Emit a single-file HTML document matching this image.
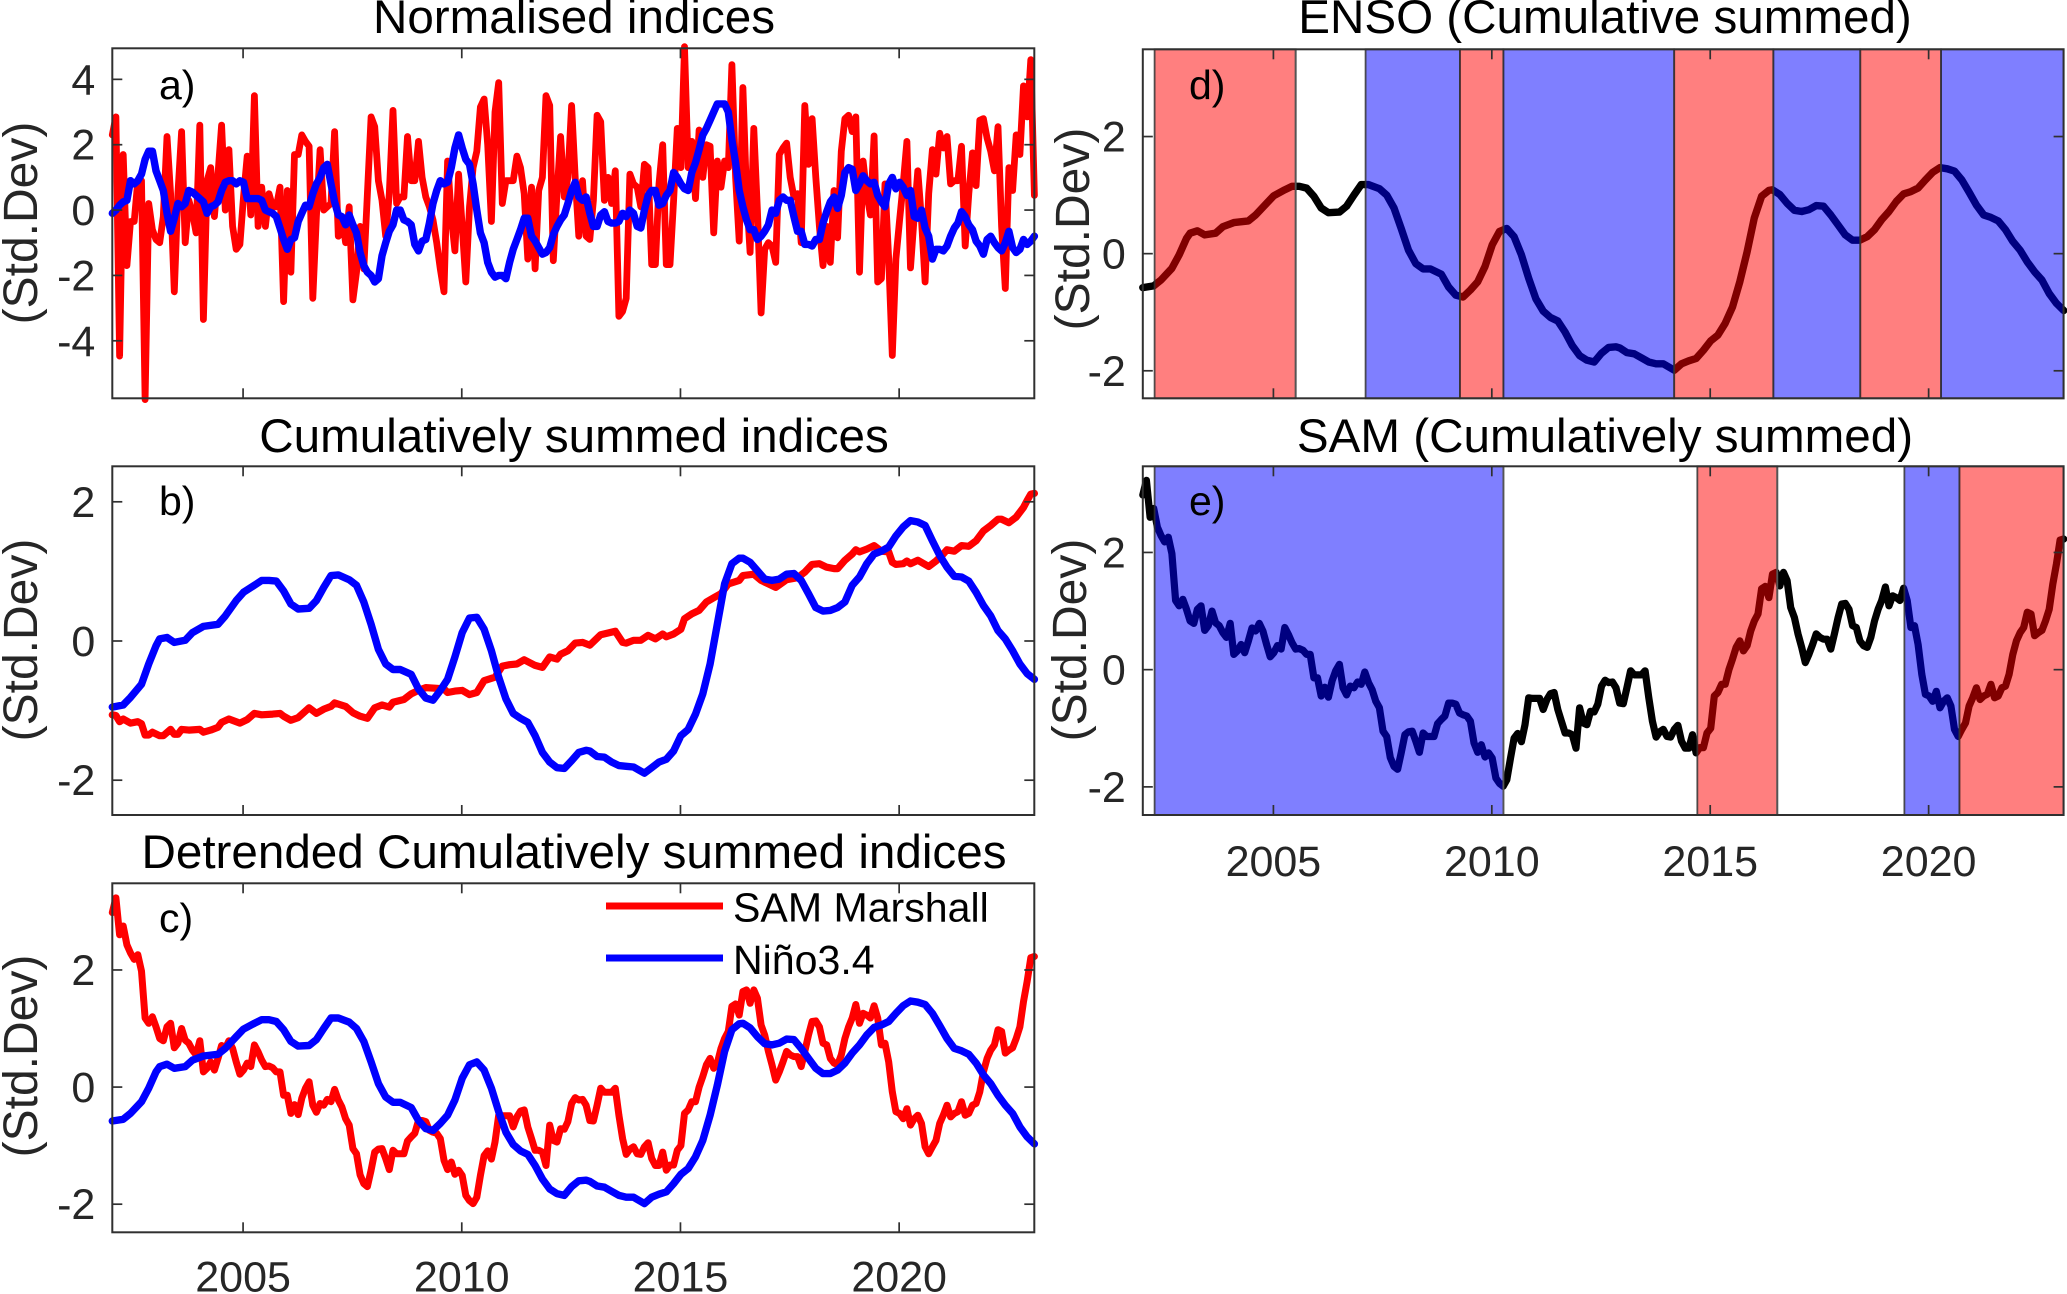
<!DOCTYPE html>
<html lang="en">
<head>
<meta charset="utf-8">
<title>Normalised and cumulatively summed SAM and Niño3.4 indices</title>
<style>
html,body{margin:0;padding:0;background:#fff;width:2067px;height:1294px;overflow:hidden}
svg{display:block}
text{font-family:"Liberation Sans",Arial,sans-serif}
.title{font-size:47.6px;fill:#000;text-anchor:middle}
.ylab{font-size:48px;fill:#262626;text-anchor:middle}
.let{font-size:41px;fill:#000}
.tick{font-size:43px;fill:#262626}
.leg{font-size:41.1px;fill:#000}
</style>
</head>
<body>
<svg id="fig" xmlns="http://www.w3.org/2000/svg" width="2067" height="1294" viewBox="0 0 2067 1294">
  <text class="title" x="574" y="33">Normalised indices</text>
  <text class="title" x="574" y="452">Cumulatively summed indices</text>
  <text class="title" x="574" y="868">Detrended Cumulatively summed indices</text>
  <text class="title" x="1605" y="33">ENSO (Cumulative summed)</text>
  <text class="title" x="1605" y="452">SAM (Cumulatively summed)</text>

  <text class="ylab" transform="translate(37,223) rotate(-90)">(Std.Dev)</text>
  <text class="ylab" transform="translate(37,640) rotate(-90)">(Std.Dev)</text>
  <text class="ylab" transform="translate(37,1056) rotate(-90)">(Std.Dev)</text>
  <text class="ylab" transform="translate(1089,229) rotate(-90)">(Std.Dev)</text>
  <text class="ylab" transform="translate(1086,640) rotate(-90)">(Std.Dev)</text>

  <g id="plots"></g>

  <text class="let" x="159" y="99">a)</text>
  <text class="let" x="159" y="515">b)</text>
  <text class="let" x="159" y="932">c)</text>
  <text class="let" x="1189" y="99">d)</text>
  <text class="let" x="1189" y="515">e)</text>

  <g>
    <line x1="606" y1="906" x2="723" y2="906" stroke="#ff0000" stroke-width="7"/>
    <text class="leg" x="733" y="921.5">SAM Marshall</text>
    <line x1="606" y1="958" x2="723" y2="958" stroke="#0000ff" stroke-width="7"/>
    <text class="leg" x="733" y="974">Niño3.4</text>
  </g>
</svg>
<script>
// ---- Data (months counted from January 2002) ----
const samNorm = [
2.3,2.85,-4.47,1.7,-1.7,-.35,-.35,.9,.9,-5.8,
.2,-.6,-.9,-1,-.2,2.25,.5,-2.5,.5,2.4,
-1,.3,-.1,-.7,2.6,-3.35,.9,1.3,-.2,1.1,
2.6,0,1.85,-.5,-1.2,-1.05,.4,1.65,-.15,3.5,
-.5,.7,-.5,.5,.1,.1,.7,-2.8,.6,-1.9,
1.7,1.7,2.3,2.1,1.95,-2.7,-.2,1.85,0,.1,
.2,2.4,-.8,-.2,-1,.1,-2.75,-1.9,-.5,-1.8,
.5,2.85,2.55,.9,.3,-.8,.5,3.05,.2,.4,
.4,2.25,.9,.9,2.1,1,.4,.1,-.3,-1,
-1.8,-2.5,1.5,-.2,-1.25,1.1,-.5,-2.2,.1,1.3,
1.8,3.15,3.4,2,-.35,3,3.9,.2,.9,.9,
.9,1.65,1.3,.5,-1.5,.7,-1.8,.6,1,3.5,
3.2,-1.55,.5,2.25,.4,1,3.2,1,-.8,.9,
-.8,-.9,.3,2.9,2.7,.3,1,.2,1.2,-3.25,
-3.1,-2.7,1.1,.8,.7,.1,1.4,1.3,-1.67,-1.67,
.8,2,-1.67,-1.67,.3,2.5,1.3,5,1.3,2.1,
.35,2.45,1,2,1.95,-.7,1.5,.7,1.5,1.3,
4.45,1,-.95,3.75,.5,-1.3,2.5,0,-3.15,-1.2,
-1,-1.1,-1.6,1.7,1.9,2.05,1,.4,.5,-1,
3.2,1.4,2.8,1,-.5,-1.7,-.5,-1.6,.6,-.85,
1.8,2.8,2.9,2.4,2.85,-1.9,1.5,.5,-.15,2.27,
-2.2,-2.1,.8,-1.5,-4.45,-1.5,-.3,.8,2.1,-1.77,
-.2,1.2,-.3,-2.2,.5,1.85,1.1,2.35,1.9,2.25,
.8,.9,.9,1.95,-1.1,.5,1.75,.75,2.75,2.8,
2.2,1.8,1.2,2.55,-.5,-2.4,1.3,.6,2.3,1.7,
3.8,2.85,4.6,.45];

const ninoNorm = [
-.1,0,.15,.25,.3,.9,.8,.9,1.1,1.55,
1.8,1.8,1.2,.9,.6,-.1,-.65,-.25,.2,.1,
.2,.6,.55,.45,.35,.25,-.1,.1,.15,.25,
.6,.85,.9,.9,.8,.9,.85,.35,.35,.35,
.35,.3,0,-.05,-.1,-.2,-.55,-.9,-1.2,-.9,
-.85,-.35,-.1,.15,.1,.5,.8,1,1.3,1.4,
.8,.25,-.15,-.2,-.45,-.15,-.45,-.7,-1.3,-1.7,
-1.9,-2,-2.2,-2.1,-1.4,-1,-.65,-.45,0,0,
-.3,-.35,-.45,-1.05,-1.25,-.95,-.9,-.4,.2,.6,
.9,.8,.85,1.3,1.9,2.3,1.9,1.55,1.4,.8,
0,-.7,-1,-1.6,-1.9,-2.05,-2,-2,-2.1,-1.6,
-1.2,-.9,-.6,-.25,-.25,-.8,-.95,-1.15,-1.35,-1.3,
-1.15,-.75,-.5,-.3,-.15,.2,.6,.85,.4,.3,
.4,-.1,-.5,-.5,-.15,-.05,-.35,-.4,-.4,-.35,
-.1,-.2,0,-.1,-.5,-.55,0,.45,.6,.6,
.15,.2,.45,.6,1.15,1,.8,.65,.6,1.15,
1.45,1.85,2.3,2.5,2.75,3,3.25,3.25,3.25,3,
2.15,1.45,.6,.1,-.3,-.6,-.6,-.9,-.8,-.65,
-.45,0,-.1,.3,.4,.3,.3,-.2,-.65,-.65,
-1.05,-1.05,-1.1,-.9,-.9,-.4,-.05,.25,.4,.05,
.45,1.15,1.3,1.25,.6,.8,1.05,.9,.8,.85,
.45,.25,.1,.8,1,.65,.85,.7,.45,.6,
-.2,-.25,0,-.55,-.8,-1.5,-1.2,-1.2,-1.25,-1.1,
-.8,-.55,-.4,-.05,-.2,-.45,-.6,-.95,-1.1,-1.35,
-.9,-.8,-1,-1.15,-1.25,-1,-.65,-1.15,-1.3,-1.2,
-.9,-1.05,-.95,-.8];

const samDetrended = [
2.98,3.23,2.6,2.75,2.43,2.29,2.18,2.26,1.98,1.18,
1.09,1.2,1.03,.83,.79,1.03,1.09,.67,.75,1,
.8,.75,.63,.55,.79,.26,.32,.43,.29,.49,
.71,.66,.79,.66,.43,.22,.29,.41,.35,.72,
.6,.46,.35,.36,.33,.26,.26,-.14,-.14,-.45,
-.3,-.47,-.19,-.02,.09,-.31,-.43,-.28,-.31,-.21,
-.25,-.04,-.22,-.34,-.54,-.65,-1.05,-1.14,-1.5,-1.65,
-1.7,-1.42,-1.11,-1.06,-1.05,-1.22,-1.41,-1.08,-1.14,-1.14,
-1.14,-.92,-.85,-.79,-.57,-.57,-.59,-.74,-.77,-.79,
-.88,-1.25,-1.41,-1.28,-1.49,-1.42,-1.51,-1.85,-1.94,-1.99,
-1.88,-1.51,-1.17,-1.09,-1.23,-.94,-.48,-.49,-.49,-.49,
-.68,-.51,-.41,-.39,-.68,-.88,-1.08,-1.08,-1.11,-1.34,
-.65,-.91,-.94,-.71,-.72,-.59,-.28,-.18,-.22,-.21,
-.31,-.57,-.58,-.31,-.02,-.09,-.09,-.09,-.02,-.48,
-.88,-1.15,-1.06,-1.02,-1.14,-1.15,-1.02,-.95,-1.22,-1.34,
-1.34,-1.11,-1.42,-1.33,-1.33,-1.08,-1,-.45,-.39,-.25,
-.25,0,.18,.38,.49,.32,.41,.66,.83,.95,
1.38,1.42,1.23,1.63,1.66,1.43,1.66,1.52,1.06,.89,
.61,.38,.12,.26,.43,.61,.55,.52,.52,.35,
.61,.89,1.12,1.13,1.03,.75,.72,.49,.41,.38,
.55,.83,1.03,1.18,1.41,1.09,1.26,1.23,1.18,1.39,
1.18,.72,.75,.43,-.08,-.42,-.45,-.54,-.37,-.65,
-.54,-.48,-.62,-1.02,-1.14,-1.02,-.91,-.62,-.48,-.31,
-.51,-.45,-.42,-.25,-.48,-.45,-.31,-.28,-.08,.26,
.49,.63,.72,.98,.95,.58,.63,.67,.83,1.03,
1.46,1.81,2.21,2.23];

const ninoMonths = [0,3,5,8,10,12,13,15,17,20,22,25,29,31,34,36,39,41,43,45,47,49,51,54,56,58,60,62,65,67,69,71,73,75,77,79,82,84,86,88,90,92,94,96,98,100,102,104,106,108,110,112,114,116,118,120,122,124,126,128,130,131,133,135,137,139,141,143,146,148,150,152,154,156,158,160,162,164,166,168,170,172,173,175,177,179,181,183,185,187,189,191,193,195,197,199,201,203,205,207,209,211,213,215,217,219,221,223,225,227,229,231,233,235,237,239,241,243,245,247,249,251,253];

const ninoDetrended = [-.58,-.55,-.45,-.25,-.02,.26,.35,.39,.32,.35,.46,.53,.56,.66,.86,.99,1.09,1.15,1.15,1.12,.98,.78,.7,.71,.81,1,1.18,1.18,1.11,1,.78,.43,.06,-.17,-.26,-.26,-.35,-.57,-.71,-.74,-.62,-.48,-.22,.15,.38,.43,.29,-.02,-.42,-.77,-.98,-1.09,-1.15,-1.34,-1.57,-1.74,-1.82,-1.85,-1.7,-1.6,-1.59,-1.61,-1.69,-1.71,-1.78,-1.85,-1.88,-1.88,-1.99,-1.88,-1.83,-1.79,-1.65,-1.49,-1.39,-1.19,-.91,-.48,.03,.61,.98,1.08,1.09,1.01,.86,.74,.72,.75,.82,.81,.66,.49,.32,.23,.23,.29,.41,.58,.72,.89,1.02,1.06,1.12,1.26,1.39,1.47,1.45,1.41,1.26,1.05,.83,.66,.62,.56,.41,.21,.06,-.14,-.31,-.45,-.68,-.85,-.97];

const ninoCum = [-.95,-.92,-.81,-.62,-.33,-.07,.03,.05,-.02,.01,.12,.21,.24,.36,.58,.7,.8,.87,.87,.86,.72,.53,.46,.47,.58,.77,.94,.95,.88,.8,.56,.24,-.12,-.33,-.41,-.41,-.48,-.69,-.82,-.85,-.71,-.55,-.23,.12,.33,.34,.17,-.14,-.52,-.83,-1.04,-1.11,-1.17,-1.36,-1.6,-1.74,-1.82,-1.83,-1.72,-1.6,-1.57,-1.58,-1.66,-1.67,-1.74,-1.79,-1.8,-1.81,-1.9,-1.82,-1.74,-1.7,-1.58,-1.36,-1.27,-1.05,-.76,-.33,.24,.82,1.11,1.19,1.19,1.13,1.01,.89,.87,.89,.96,.97,.87,.68,.48,.43,.44,.48,.56,.8,.92,1.11,1.25,1.29,1.35,1.51,1.64,1.73,1.71,1.66,1.44,1.23,1.06,.93,.92,.86,.7,.51,.36,.15,.03,-.14,-.33,-.47,-.55];

const samCumMonths = [0,1,2,3,5,7,8,9,10,11,13,14,16,17,18,19,21,24,25,27,29,30,32,35,37,39,41,44,46,47,49,51,54,56,58,60,61,64,66,68,70,72,74,76,77,80,82,84,86,89,91,92,94,96,98,100,102,105,107,109,111,113,116,118,120,122,123,125,127,129,131,134,138,140,141,143,145,147,149,151,152,154,156,157,159,161,163,165,167,169,172,173,176,178,180,182,185,188,190,192,194,196,198,199,201,203,204,205,207,209,211,213,214,215,217,218,219,221,224,226,228,229,231,233,235,237,239,241,243,244,246,248,250,251,252,253];

const samCum = [-1.06,-1.07,-1.16,-1.12,-1.18,-1.16,-1.19,-1.35,-1.35,-1.31,-1.36,-1.36,-1.27,-1.34,-1.34,-1.27,-1.28,-1.27,-1.31,-1.28,-1.24,-1.17,-1.12,-1.18,-1.13,-1.04,-1.06,-1.05,-1.04,-1.08,-1.14,-1.1,-.96,-1.04,-.98,-.94,-.89,-.94,-1.03,-1.08,-1.11,-.96,-.92,-.95,-.88,-.84,-.76,-.71,-.67,-.68,-.69,-.74,-.72,-.71,-.77,-.74,-.57,-.52,-.36,-.34,-.33,-.27,-.35,-.38,-.23,-.26,-.19,-.14,-.03,-.02,-.06,.09,.14,-.02,-.03,.01,.01,.08,.03,.1,.06,.1,.17,.32,.39,.44,.56,.62,.68,.82,.87,.94,.96,.87,.82,.77,.88,.91,.99,1.1,1.11,1.06,1.04,1.04,1.16,1.25,1.31,1.28,1.32,1.37,1.29,1.28,1.13,1.1,1.11,1.15,1.11,1.16,1.07,1.15,1.25,1.31,1.29,1.37,1.36,1.44,1.58,1.66,1.75,1.75,1.7,1.78,1.92,2.02,2.11,2.12];

const xTickYears = [2005, 2010, 2015, 2020];
const yTicksA = [-4, -2, 0, 2, 4];
const yTicksRest = [-2, 0, 2];
const ensoPhaseStarts = [2002.28, 2005.51, 2007.11, 2009.27, 2010.265, 2014.175, 2016.445, 2018.435, 2020.285];
const ensoPhaseEnds   = [2005.51, 2007.11, 2009.27, 2010.265, 2014.175, 2016.445, 2018.435, 2020.285, 2023.09];
const ensoPhaseTypes  = ['pos', 'none', 'neg', 'pos', 'neg', 'pos', 'neg', 'pos', 'neg'];
const samPhaseStarts = [2002.28, 2010.265, 2014.705, 2016.535, 2019.445, 2020.705];
const samPhaseEnds   = [2010.265, 2014.705, 2016.535, 2019.445, 2020.705, 2023.09];
const samPhaseTypes  = ['neg', 'none', 'pos', 'none', 'neg', 'pos'];

// ---- Drawing ----
const NS = 'http://www.w3.org/2000/svg';
const root = document.getElementById('plots');
const XMIN = 2002.01, XMAX = 2023.09;

function make(tag, parent, attrs) {
  const el = document.createElementNS(NS, tag);
  for (const k in attrs) el.setAttribute(k, attrs[k]);
  parent.appendChild(el);
  return el;
}
function scaleX(box) { return t => box.l + (t - XMIN) / (XMAX - XMIN) * (box.r - box.l); }
function scaleY(box) { return v => box.b - (v - box.ymin) / (box.ymax - box.ymin) * (box.b - box.t); }
function monthToYear(m) { return XMIN + m / 12; }

function drawSeries(parent, sx, sy, months, values, colour, width, name) {
  const pts = values.map((v, i) => {
    const m = months ? months[i] : i;
    return sx(monthToYear(m)).toFixed(1) + ',' + sy(v).toFixed(1);
  }).join(' ');
  const el = make('polyline', parent, {points: pts, fill: 'none', stroke: colour, 'stroke-width': width, 'stroke-linejoin': 'round', 'stroke-linecap': 'round'});
  
  
}
function drawPhases(parent, box, sx, starts, ends, types, name) {
  types.forEach((type, i) => {
    if (type === 'none') {
      const g = make('line', parent, {x1: sx(starts[i]), x2: sx(starts[i]), y1: box.t, y2: box.b, stroke: '#555', 'stroke-width': 1.8});
      
      
      return;
    }
    const rect = make('rect', parent, {
      x: sx(starts[i]), y: box.t, width: sx(ends[i]) - sx(starts[i]), height: box.b - box.t,
      fill: type === 'pos' ? 'rgba(255,0,0,.5)' : 'rgba(0,0,255,.5)',
      stroke: 'rgba(50,50,50,.85)', 'stroke-width': 1.8
    });
    
    
  });
}
function drawAxes(parent, box, sx, sy, yTicks, showX, name) {
  const C = '#303030';
  yTicks.forEach(v => {
    const y = sy(v);
    const a = make('line', parent, {x1: box.l, x2: box.l + 10, y1: y, y2: y, stroke: C, 'stroke-width': 1.7});
    
    
    const b = make('line', parent, {x1: box.r, x2: box.r - 10, y1: y, y2: y, stroke: C, 'stroke-width': 1.7});
    
    
    const t = make('text', parent, {x: box.l - 17, y: y + 15, 'text-anchor': 'end', class: 'tick'});
    
    
    t.textContent = String(v);
  });
  xTickYears.forEach(yr => {
    const x = sx(yr);
    const a = make('line', parent, {x1: x, x2: x, y1: box.b, y2: box.b - 10, stroke: C, 'stroke-width': 1.7});
    
    
    const b = make('line', parent, {x1: x, x2: x, y1: box.t, y2: box.t + 10, stroke: C, 'stroke-width': 1.7});
    
    
    if (showX) {
      const t = make('text', parent, {x: x, y: box.b + showX, 'text-anchor': 'middle', class: 'tick'});
      
      
      t.textContent = String(yr);
    }
  });
  const frame = make('rect', parent, {x: box.l, y: box.t, width: box.r - box.l, height: box.b - box.t, fill: 'none', stroke: C, 'stroke-width': 2});
  
  
}

const boxA = {l: 112.3, r: 1034.3, t: 48.3, b: 398.3, ymin: -5.76, ymax: 4.95};
const boxB = {l: 112.3, r: 1034.3, t: 466.3, b: 815, ymin: -2.5, ymax: 2.51};
const boxC = {l: 112.3, r: 1034.3, t: 883.3, b: 1232.3, ymin: -2.48, ymax: 3.48};
const boxD = {l: 1142.8, r: 2063.6, t: 49.3, b: 398.3, ymin: -2.47, ymax: 3.49};
const boxE = {l: 1142.8, r: 2063.6, t: 466.3, b: 815, ymin: -2.48, ymax: 3.47};

function panel(box, name, yTicks, showX, drawContent) {
  const g = make('g', root, {});
  
  
  const sx = scaleX(box), sy = scaleY(box);
  drawContent(g, sx, sy);
  drawAxes(g, box, sx, sy, yTicks, showX, name);
}

panel(boxA, 'panel-a', yTicksA, 0, (g, sx, sy) => {
  drawSeries(g, sx, sy, null, samNorm, '#ff0000', 6.8, 'sam-normalised-line');
  drawSeries(g, sx, sy, null, ninoNorm, '#0000ff', 7.4, 'nino-normalised-line');
});
panel(boxB, 'panel-b', yTicksRest, 0, (g, sx, sy) => {
  drawSeries(g, sx, sy, samCumMonths, samCum, '#ff0000', 7.2, 'sam-cumulative-line');
  drawSeries(g, sx, sy, ninoMonths, ninoCum, '#0000ff', 7.4, 'nino-cumulative-line');
});
panel(boxC, 'panel-c', yTicksRest, 59, (g, sx, sy) => {
  drawSeries(g, sx, sy, null, samDetrended, '#ff0000', 7, 'sam-detrended-line');
  drawSeries(g, sx, sy, ninoMonths, ninoDetrended, '#0000ff', 7.4, 'nino-detrended-line');
});
panel(boxD, 'panel-d', yTicksRest, 0, (g, sx, sy) => {
  drawSeries(g, sx, sy, ninoMonths, ninoDetrended, '#000000', 7.4, 'enso-cumulative-line');
  drawPhases(g, boxD, sx, ensoPhaseStarts, ensoPhaseEnds, ensoPhaseTypes, 'enso-phase');
});
panel(boxE, 'panel-e', yTicksRest, 61, (g, sx, sy) => {
  drawSeries(g, sx, sy, null, samDetrended, '#000000', 7.2, 'sam-cumulative-line-black');
  drawPhases(g, boxE, sx, samPhaseStarts, samPhaseEnds, samPhaseTypes, 'sam-phase');
});
</script>
</body>
</html>
